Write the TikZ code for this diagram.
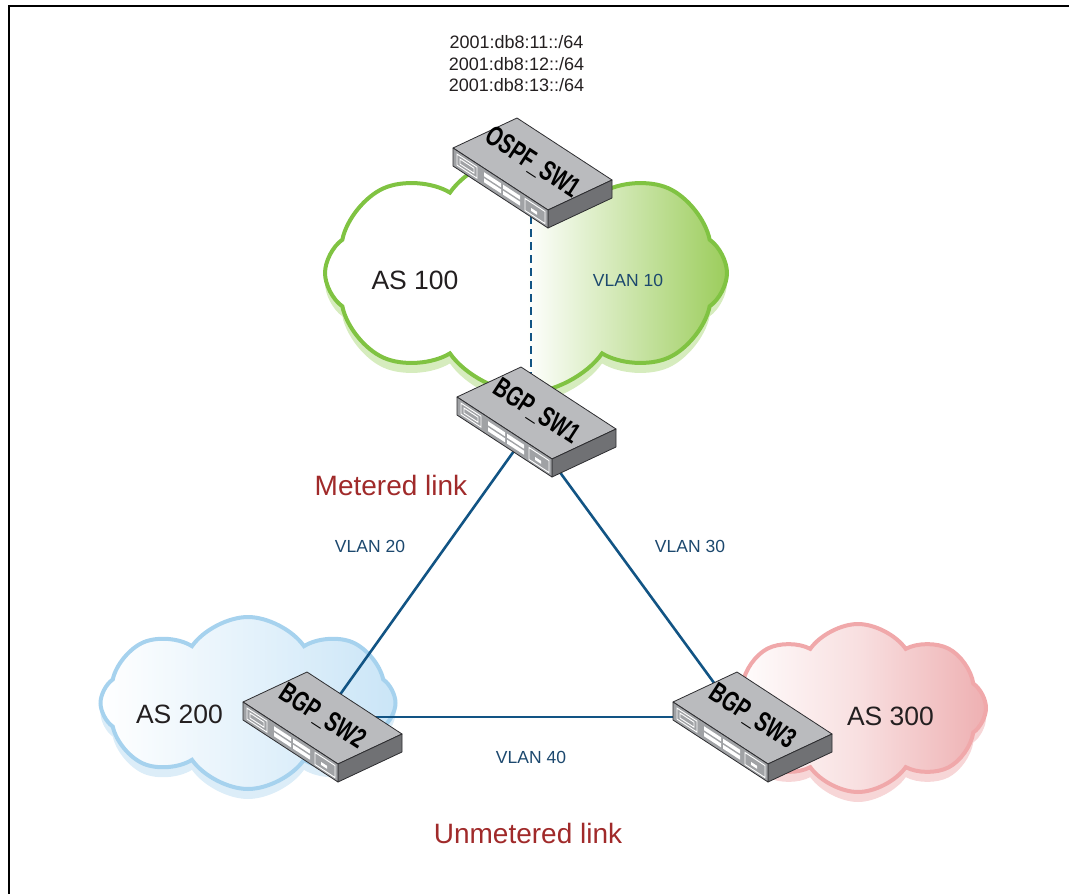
\documentclass[tikz,border=0pt]{standalone}
\usepackage{fontspec}
\setmainfont{Liberation Sans}
\usetikzlibrary{shapes.symbols}

\definecolor{linkblue}{RGB}{18,84,132}
\definecolor{vlanblue}{RGB}{28,72,110}
\definecolor{meterred}{RGB}{160,42,42}
\definecolor{astext}{RGB}{35,31,32}
\definecolor{as100line}{RGB}{128,195,66}
\definecolor{as100fill}{RGB}{156,205,92}
\definecolor{as100shadow}{RGB}{214,236,190}
\definecolor{as200line}{RGB}{166,210,238}
\definecolor{as200fill}{RGB}{202,229,247}
\definecolor{as200shadow}{RGB}{220,237,248}
\definecolor{as300line}{RGB}{240,168,170}
\definecolor{as300fill}{RGB}{238,176,178}
\definecolor{as300shadow}{RGB}{247,214,215}
\definecolor{swtop}{RGB}{186,187,190}
\definecolor{swfront}{RGB}{160,162,165}
\definecolor{swside}{RGB}{112,113,116}
\definecolor{swedge}{RGB}{45,45,48}

\tikzset{
  asarea/.style={cloud, cloud puffs=8, cloud puff arc=110, cloud ignores aspect, line width=4pt, inner sep=0pt},
  asname/.style={text=astext, font=\fontsize{26.5}{30}\selectfont},
  vlan/.style={text=vlanblue, font=\fontsize{17.5}{20}\selectfont},
  meter/.style={text=meterred, font=\fontsize{28}{32}\selectfont},
  link/.style={draw=linkblue, line width=2.6pt},
  % a stackable switch seen from above, origin at the middle of its lid
  pics/switch/.style={code={
    % lid
    \filldraw[swedge, fill=swtop, line width=0.8pt, line join=round]
      (-79.5,-16) -- (-15.5,-46) -- (79.5,16) -- (15.5,46) -- cycle;
    % right side
    \filldraw[swedge, fill=swside, line width=0.8pt, line join=round]
      (15.5,46) -- (79.5,16) -- (79.5,34) -- (15.5,64) -- cycle;
    % front panel with the ports
    \begin{scope}[shift={(-79.5,-16)}, yslant=-0.6526]
      \filldraw[swedge, fill=swfront, line width=0.8pt, line join=round] (0,0) rectangle (95,18);
      \draw[white, line width=0.9pt] (4,3.5) rectangle (24,14.5) (7,6.5) rectangle (21,11.5);
      \foreach \col in {31,50}
        \foreach \row in {4,10}
          \fill[white] (\col,\row) rectangle ++(17,4);
      \draw[white, line width=0.9pt] (72,3.5) rectangle (92,15.5);
      \fill[white] (78,9) rectangle (84,12);
    \end{scope}
    % name on the lid
    \node[transform shape, rotate=-33.1, xscale=0.7,
      font=\fontsize{28}{28}\selectfont\bfseries] at (0,-1) {#1};
  }}
}

\begin{document}
\begin{tikzpicture}[x=1pt, y=-1pt]
  \useasboundingbox (0,0) rectangle (1069,894);

  % Frame
  \draw[line width=2.4pt] (9,894) -- (9,6) -- (1069,6);

  % Autonomous systems
  \node[asarea, draw=none, fill=as100shadow, minimum width=402pt, minimum height=240pt] (as100s) at (526,283) {};
  \node[asarea, draw=as100line, left color=white, right color=as100fill, middle color=white,
    minimum width=402pt, minimum height=240pt] (as100) at (526,273) {};

  \node[asarea, draw=none, fill=as200shadow, minimum width=295pt, minimum height=172pt] (as200s) at (248,713) {};
  \node[asarea, draw=as200line, left color=white, right color=as200fill,
    minimum width=295pt, minimum height=172pt] (as200) at (248,703) {};

  \node[asarea, draw=none, fill=as300shadow, minimum width=256pt, minimum height=168pt] (as300s) at (858,718) {};
  \node[asarea, draw=as300line, left color=white, right color=as300fill, middle color=white!60!as300fill,
    minimum width=256pt, minimum height=168pt] (as300) at (858,708) {};

  % Links
  \coordinate (ospf) at (531,190);
  \coordinate (sw1) at (529,430);
  \coordinate (sw2) at (324,717);
  \coordinate (sw3) at (739,717);

  \draw[link, dash pattern=on 8pt off 5pt] (ospf) -- (ospf |- sw1);
  \draw[link] (sw1) -- (sw2);
  \draw[link] (sw1) -- (sw3);
  \draw[link] (sw2) -- (sw3);

  % Switches
  \pic at (532.5,164) {switch=OSPF\_SW1};
  \pic at (536.5,413) {switch=BGP\_SW1};
  \pic at (322.5,718) {switch=BGP\_SW2};
  \pic at (752.5,718) {switch=BGP\_SW3};

  % Labels
  \node[text=astext, align=center, font=\fontsize{18}{21.5}\selectfont] (nets) at (516.5,64)
    {2001:db8:11::/64\\2001:db8:12::/64\\2001:db8:13::/64};

  \node[asname] (as100name) at (415,280) {AS 100};
  \node[asname] (as200name) at (179.5,714) {AS 200};
  \node[asname] (as300name) at (890.5,716) {AS 300};

  \node[vlan] (vlan10) at (628,280) {VLAN 10};
  \node[vlan] (vlan20) at (370,546) {VLAN 20};
  \node[vlan] (vlan30) at (690,546) {VLAN 30};
  \node[vlan] (vlan40) at (531,757) {VLAN 40};

  \node[meter] (metered) at (391,485) {Metered link};
  \node[meter] (unmetered) at (528,833) {Unmetered link};
\end{tikzpicture}
\end{document}
